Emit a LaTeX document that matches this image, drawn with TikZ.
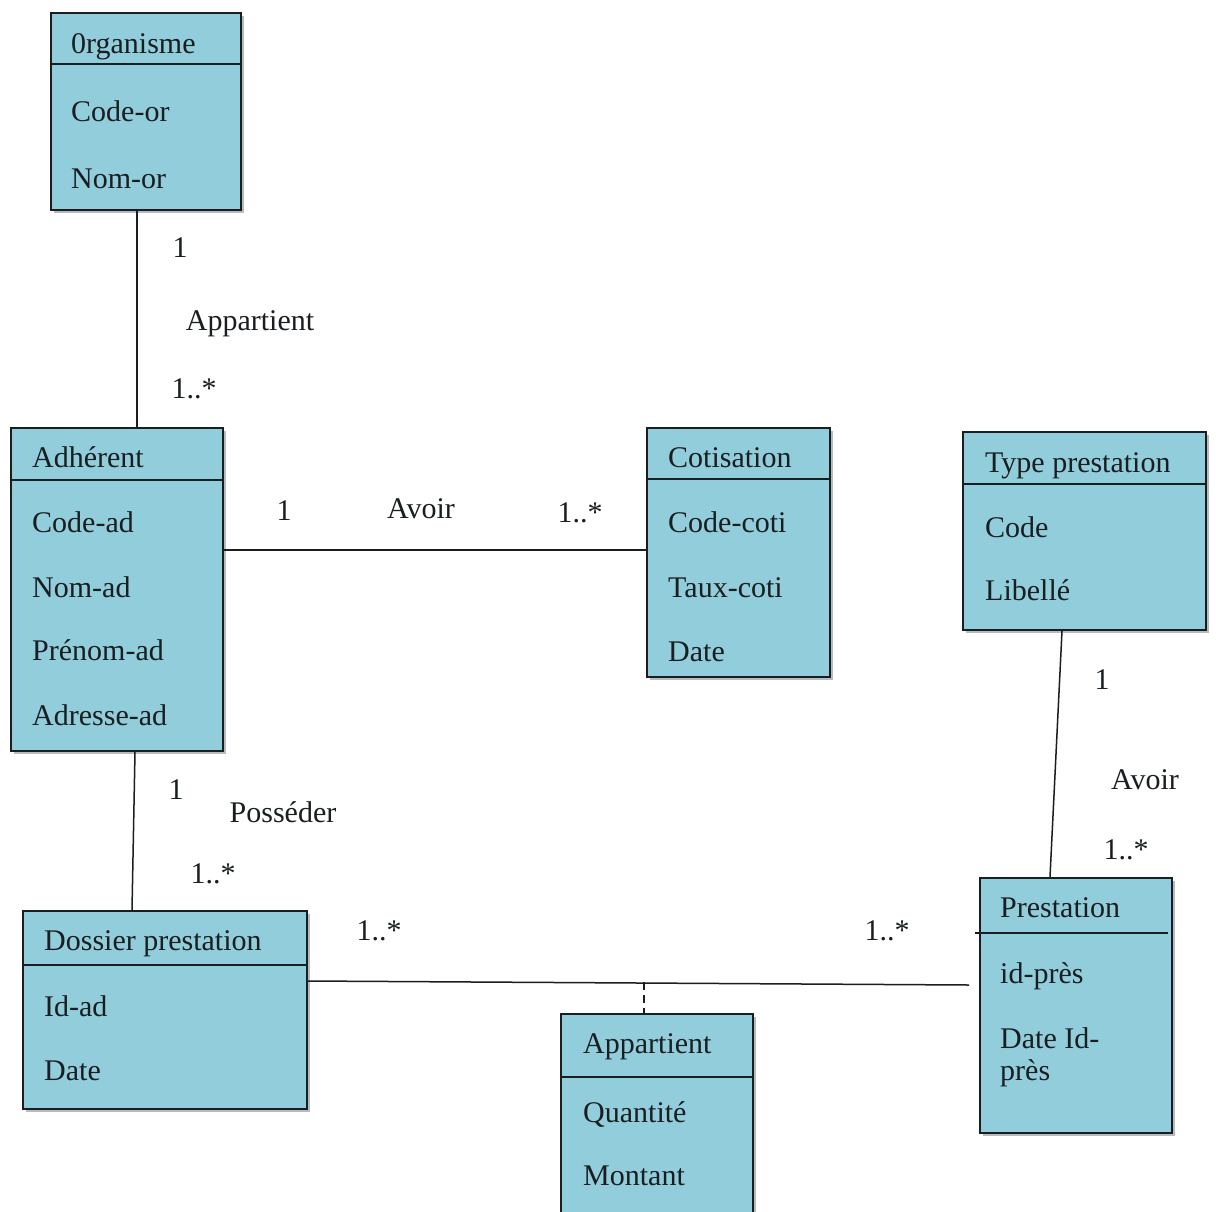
\documentclass[tikz,border=0pt]{standalone}
\usepackage{fontspec}
\setmainfont{Liberation Serif}
\usetikzlibrary{shadows}
\definecolor{clsfill}{RGB}{146,205,220}
\definecolor{ink}{RGB}{25,30,32}
\begin{document}
\begin{tikzpicture}[x=1pt,y=-1pt,
  cls/.style={draw=ink,line width=2pt,fill=clsfill,anchor=north west,inner sep=0pt,
    drop shadow={shadow xshift=3pt,shadow yshift=-3pt,fill=black!45,opacity=0.6}},
  divider/.style={draw=ink,line width=1.8pt},
  txt/.style={anchor=base west,inner sep=0pt,text=ink,font=\fontsize{30}{34}\selectfont},
  lbl/.style={anchor=base,inner sep=0pt,text=ink,font=\fontsize{30}{34}\selectfont},
  conn/.style={draw=ink,line width=1.5pt}]
\clip (0,0) rectangle (1216,1211);
\fill[white] (0,0) rectangle (1216,1211);

% Organisme
\node[cls,minimum width=190pt,minimum height=197pt] (org) at (50,12) {};
\draw[divider] (50,64) -- (240,64);
\node[txt] (orgt) at (71,53) {0rganisme};
\node[txt] (orga) at (71,121) {Code-or};
\node[txt] (orgb) at (71,188) {Nom-or};

% Adherent
\node[cls,minimum width=212pt,minimum height=323pt] (adh) at (10,427) {};
\draw[divider] (10,480) -- (222,480);
\node[txt] (adht) at (32,467) {Adhérent};
\node[txt] (adha) at (32,532) {Code-ad};
\node[txt] (adhb) at (32,597) {Nom-ad};
\node[txt] (adhc) at (32,660) {Prénom-ad};
\node[txt] (adhd) at (32,725) {Adresse-ad};

% Cotisation
\node[cls,minimum width=183pt,minimum height=249pt] (coti) at (646,427) {};
\draw[divider] (646,479) -- (829,479);
\node[txt] (cotit) at (668,467) {Cotisation};
\node[txt] (cotia) at (668,532) {Code-coti};
\node[txt] (cotib) at (668,597) {Taux-coti};
\node[txt] (cotic) at (668,661) {Date};

% Type prestation
\node[cls,minimum width=243pt,minimum height=198pt] (type) at (962,431) {};
\draw[divider] (962,484) -- (1205,484);
\node[txt] (typet) at (985,472) {Type prestation};
\node[txt] (typea) at (985,537) {Code};
\node[txt] (typeb) at (985,600) {Libellé};

% Dossier prestation
\node[cls,minimum width=284pt,minimum height=198pt] (dos) at (22,910) {};
\draw[divider] (22,965) -- (306,965);
\node[txt] (dost) at (44,950) {Dossier prestation};
\node[txt] (dosa) at (44,1016) {Id-ad};
\node[txt] (dosb) at (44,1080) {Date};

% Appartient (association class)
\node[cls,minimum width=192pt,minimum height=215pt] (app) at (560,1013) {};
\draw[divider] (560,1077) -- (752,1077);
\node[txt] (appt) at (583,1053) {Appartient};
\node[txt] (appa) at (583,1122) {Quantité};
\node[txt] (appb) at (583,1185) {Montant};

% Prestation
\node[cls,minimum width=192pt,minimum height=255pt] (prest) at (979,877) {};
\draw[divider] (975,933) -- (1168,933);
\node[txt] (prestt) at (1000,917) {Prestation};
\node[txt] (presta) at (1000,983) {id-près};
\node[txt] (prestb) at (1000,1048) {Date Id-};
\node[txt] (prestc) at (1000,1080) {près};

% Connectors
\draw[conn] ([xshift=-9pt]org.south) -- ([xshift=20pt]adh.north);
\draw[conn] ([yshift=2.5pt]coti.west) -- ([yshift=2.5pt]coti.west -| adh.east);
\draw[conn] ([xshift=18pt]adh.south) -- ([xshift=-33pt]dos.north);
\draw[conn] ([xshift=-22.5pt]type.south) -- ([xshift=-26pt]prest.north);
\draw[conn] ([yshift=29pt]dos.east) -- ([xshift=-10pt,yshift=20.5pt]prest.west);
\coordinate (mid) at (644,982);
\draw[conn,dash pattern=on 8pt off 5pt] (mid) -- (mid |- app.north);

% Labels
\node[lbl] (l1) at (180,257) {1};
\node[lbl] (l2) at (250,330) {Appartient};
\node[lbl] (l3) at (194,398) {1..*};
\node[lbl] (l4) at (284,520) {1};
\node[lbl] (l5) at (421,518) {Avoir};
\node[lbl] (l6) at (580,522) {1..*};
\node[lbl] (l7) at (176,799) {1};
\node[lbl] (l8) at (283,822) {Posséder};
\node[lbl] (l9) at (213,883) {1..*};
\node[lbl] (l10) at (1102,689) {1};
\node[lbl] (l11) at (1145,789) {Avoir};
\node[lbl] (l12) at (1126,859) {1..*};
\node[lbl] (l13) at (379,940) {1..*};
\node[lbl] (l14) at (887,940) {1..*};
\end{tikzpicture}
\end{document}
